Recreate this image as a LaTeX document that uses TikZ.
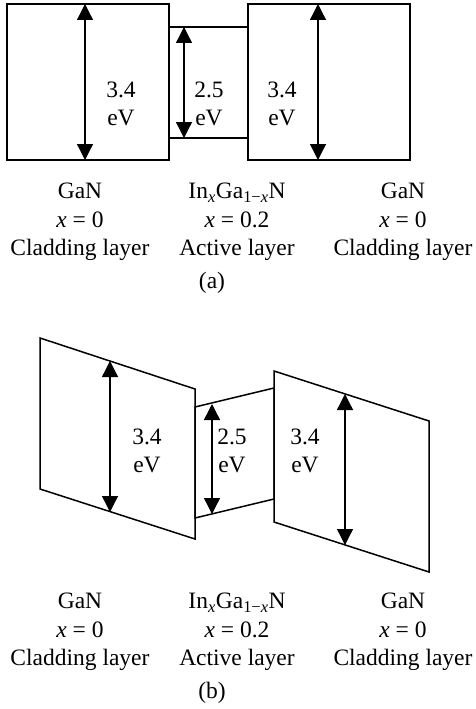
\documentclass[tikz,border=0pt]{standalone}
\usepackage{fontspec}
\setmainfont{Liberation Serif}
\usepackage{tikz}
\usetikzlibrary{arrows.meta}
\newcommand{\Ix}{\textit{x}}

\begin{document}
\begin{tikzpicture}[x=1pt,y=-1pt,
  band/.style={line width=1.5pt,line join=miter},
  gap/.style={{Triangle[length=16pt,width=16pt]}-{Triangle[length=16pt,width=16pt]},line width=1.3pt},
  lbl/.style={align=center,font=\fontsize{23.5}{28.5}\selectfont,inner sep=0pt}]
  \useasboundingbox (0,0) rectangle (476,709);

  % (a) flat bands
  \draw[band] (7,4) rectangle (169,160);
  \draw[band] (169,27) rectangle (248,138);
  \draw[band] (248,4) rectangle (410,160);

  \coordinate (aLt) at (85,4);   \coordinate (aLb) at (85,160);
  \coordinate (aMt) at (184,27); \coordinate (aMb) at (184,138);
  \coordinate (aRt) at (318,4);  \coordinate (aRb) at (318,160);
  \draw[gap] (aLt) -- (aLb);
  \draw[gap] (aMt) -- (aMb);
  \draw[gap] (aRt) -- (aRb);

  \node[lbl] (aLe) at (121,104) {3.4\\eV};
  \node[lbl] (aMe) at (209,104) {2.5\\eV};
  \node[lbl] (aRe) at (282,104) {3.4\\eV};

  \node[lbl] (aLc) at (80,222) {GaN\\\Ix{} = 0\\Cladding layer};
  \node[lbl] (aMc) at (237,222) {In\textsubscript{\Ix}Ga\textsubscript{1−\Ix}N\\\Ix{} = 0.2\\Active layer};
  \node[lbl] (aRc) at (403,222) {GaN\\\Ix{} = 0\\Cladding layer};
  \node[lbl] (acap) at (212,283) {(a)};

  % (b) tilted bands
  \draw[band] (40,338) -- (195,389) -- (195,539) -- (40,489) -- cycle;
  \draw[band] (195,407) -- (274,388) -- (274,499) -- (195,518) -- cycle;
  \draw[band] (274,371) -- (429,421) -- (429,572) -- (274,522) -- cycle;

  \coordinate (bLt) at (110,361); \coordinate (bLb) at (110,512);
  \coordinate (bMt) at (212,404); \coordinate (bMb) at (212,514);
  \coordinate (bRt) at (345,394); \coordinate (bRb) at (345,545);
  \draw[gap] (bLt) -- (bLb);
  \draw[gap] (bMt) -- (bMb);
  \draw[gap] (bRt) -- (bRb);

  \node[lbl] (bLe) at (147,451) {3.4\\eV};
  \node[lbl] (bMe) at (232,451) {2.5\\eV};
  \node[lbl] (bRe) at (305,451) {3.4\\eV};

  \node[lbl] (bLc) at (80,632) {GaN\\\Ix{} = 0\\Cladding layer};
  \node[lbl] (bMc) at (237,632) {In\textsubscript{\Ix}Ga\textsubscript{1−\Ix}N\\\Ix{} = 0.2\\Active layer};
  \node[lbl] (bRc) at (403,632) {GaN\\\Ix{} = 0\\Cladding layer};
  \node[lbl] (bcap) at (212,693) {(b)};
\end{tikzpicture}
\end{document}
